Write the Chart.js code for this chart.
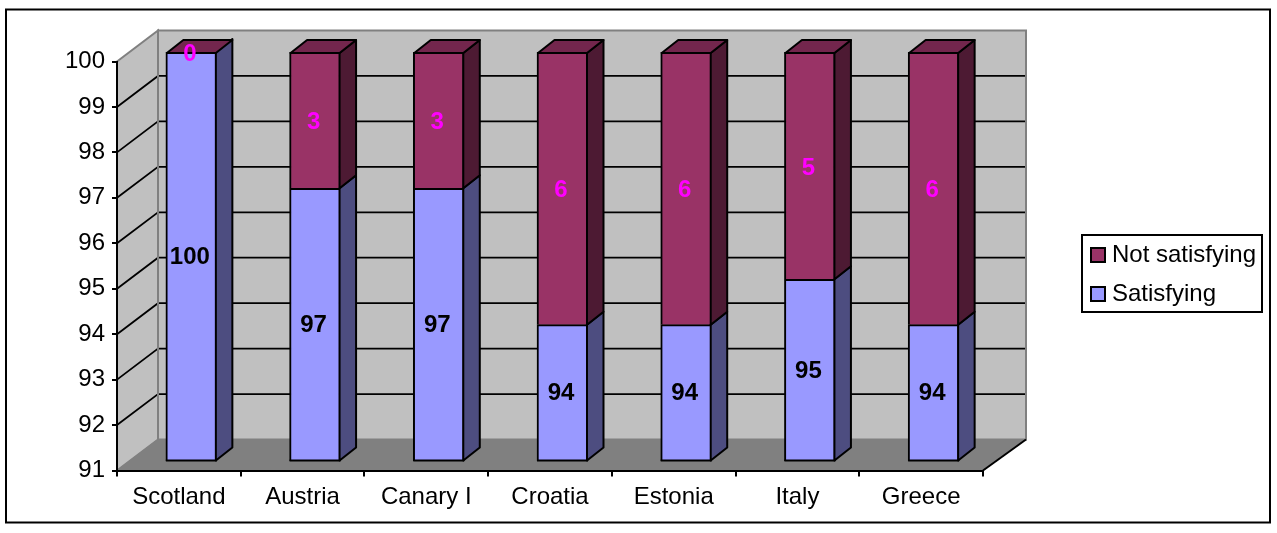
<!DOCTYPE html>
<html>
<head>
<meta charset="utf-8">
<title>Satisfaction by destination</title>
<script src="https://cdn.jsdelivr.net/npm/chart.js@4"></script>
<style>
  html, body { margin: 0; padding: 0; background: #fff; }
  #wrap { width: 1277px; height: 533px; }
</style>
</head>
<body>
<div id="wrap"><canvas id="chart" width="1277" height="533"></canvas></div>
<script>
// ===== DATA =====
const categories    = ["Scotland", "Austria", "Canary I", "Croatia", "Estonia", "Italy", "Greece"];
const satisfying    = [100, 97, 97, 94, 94, 95, 94];
const notSatisfying = [0, 3, 3, 6, 6, 5, 6];
const yMin = 91;
const yMax = 100;

// ===== LOOK =====
const FONT = '"Liberation Sans", Arial, sans-serif';
const TEXT_SIZE = 24;
const WALL = { dxLeft: 41, dxRight: 43, dy: -31 };     // floor depth, front edge to back wall
const BAR_SHIFT = { dx: 12.5, dy: -9.5 };
const BAR_DEPTH = { dx: 16.5, dy: -13 };
const BLUE   = { front: "#9999ff", side: "#4d4d80" };
const PURPLE = { front: "#993366", side: "#4d1a33", top: "#73264d" };

function poly(ctx, pts, fill, stroke, lw) {
  ctx.beginPath();
  pts.forEach((p, i) => i ? ctx.lineTo(p[0], p[1]) : ctx.moveTo(p[0], p[1]));
  ctx.closePath();
  if (fill) { ctx.fillStyle = fill; ctx.fill(); }
  if (stroke) { ctx.strokeStyle = stroke; ctx.lineWidth = lw; ctx.stroke(); }
}

// ===== WALLS, FLOOR, FRAME =====
const wallsPlugin = {
  id: "walls",
  beforeDraw(chart) {
    const { ctx, chartArea: a, scales: { y } } = chart;
    const { dxLeft, dxRight, dy } = WALL;
    const backL = a.left + dxLeft;
    const backR = a.right + dxRight;
    ctx.save();
    ctx.fillStyle = "#fff";
    ctx.fillRect(0, 0, chart.width, chart.height);
    ctx.strokeStyle = "#000";
    ctx.lineWidth = 2;
    ctx.strokeRect(6, 9.5, 1264, 513);

    // left wall, back wall, floor
    poly(ctx, [[a.left, a.top], [backL, a.top + dy], [backL, a.bottom + dy], [a.left, a.bottom]], "#c0c0c0", "#808080", 2);
    poly(ctx, [[backL, a.top + dy], [backR, a.top + dy], [backR, a.bottom + dy], [backL, a.bottom + dy]], "#c0c0c0", "#808080", 2);
    poly(ctx, [[a.left, a.bottom], [backL, a.bottom + dy], [backR, a.bottom + dy], [a.right, a.bottom]], "#808080", "#808080", 1);

    // gridlines run up the left wall then along the back wall
    ctx.strokeStyle = "#000";
    ctx.lineWidth = 1.8;
    y.ticks.forEach(t => {
      if (t.value === yMin || t.value === yMax) return;
      const py = y.getPixelForValue(t.value);
      ctx.beginPath();
      ctx.moveTo(a.left, py);
      ctx.lineTo(backL, py + dy);
      ctx.lineTo(backR - 1, py + dy);
      ctx.stroke();
    });

    // corner between the walls stays grey
    ctx.strokeStyle = "#808080";
    ctx.lineWidth = 2;
    ctx.beginPath();
    ctx.moveTo(backL, a.top + dy);
    ctx.lineTo(backL, a.bottom + dy);
    ctx.stroke();

    // front right edge of the floor
    ctx.strokeStyle = "#000";
    ctx.beginPath();
    ctx.moveTo(a.right, a.bottom);
    ctx.lineTo(backR, a.bottom + dy);
    ctx.stroke();
    ctx.restore();
  }
};

// ===== 3D BARS: move the library's bars back, add side and top faces =====
const barsPlugin = {
  id: "bars3d",
  beforeDatasetsDraw(chart) {
    chart.ctx.save();
    chart.ctx.translate(BAR_SHIFT.dx, BAR_SHIFT.dy);
  },
  afterDatasetsDraw(chart) {
    const { ctx, chartArea } = chart;
    const d = BAR_DEPTH;
    const blue = chart.getDatasetMeta(0).data;
    const purple = chart.getDatasetMeta(1).data;
    // the stack starts at zero, far under the axis minimum, so the visible bottom is the axis
    const floorY = chartArea.bottom;
    ctx.lineJoin = "round";
    blue.forEach((bar, i) => {
      const top = purple[i];
      const xr = bar.x + bar.width / 2 - 1;
      const xl = bar.x - bar.width / 2 + 1;
      const yb = floorY - 0.5;
      const ym = bar.y;
      const yt = top.y + 1;
      poly(ctx, [[xr, yb], [xr + d.dx, yb + d.dy], [xr + d.dx, ym + d.dy], [xr, ym]], BLUE.side, "#000", 2);
      if (notSatisfying[i] > 0) {
        poly(ctx, [[xr, ym], [xr + d.dx, ym + d.dy], [xr + d.dx, yt + d.dy], [xr, yt]], PURPLE.side, "#000", 2);
      }
      poly(ctx, [[xl, yt], [xl + d.dx, yt + d.dy], [xr + d.dx, yt + d.dy], [xr, yt]], PURPLE.top, "#000", 2);
      // bottom edge of the front face
      ctx.strokeStyle = "#000";
      ctx.lineWidth = 2;
      ctx.beginPath();
      ctx.moveTo(xl - 1, yb);
      ctx.lineTo(xr + 1, yb);
      ctx.stroke();
    });

    // value labels, centred on each front face
    ctx.font = `bold ${TEXT_SIZE}px ${FONT}`;
    ctx.textAlign = "center";
    ctx.textBaseline = "middle";
    blue.forEach((bar, i) => {
      ctx.fillStyle = "#000";
      ctx.fillText(satisfying[i], bar.x - 1.5, (bar.y + floorY) / 2 + 1);
      const top = purple[i];
      ctx.fillStyle = "#ff00ff";
      ctx.fillText(notSatisfying[i], top.x - 1.5, (top.y + top.base) / 2 + 2.5);
    });
    ctx.restore();
  }
};

// ===== LEGEND =====
const legendPlugin = {
  id: "boxLegend",
  afterDraw(chart) {
    const { ctx } = chart;
    ctx.save();
    ctx.strokeStyle = "#000";
    ctx.lineWidth = 2;
    ctx.strokeRect(1082, 235, 180, 77);
    const items = [chart.data.datasets[1], chart.data.datasets[0]];
    ctx.font = `${TEXT_SIZE}px ${FONT}`;
    ctx.textBaseline = "middle";
    ctx.textAlign = "left";
    items.forEach((ds, i) => {
      const cy = 255 + i * 39;
      ctx.fillStyle = ds.backgroundColor;
      ctx.fillRect(1091, cy - 7, 14, 14);
      ctx.strokeRect(1091, cy - 7, 14, 14);
      ctx.fillStyle = "#000";
      ctx.fillText(ds.label, 1112, cy);
    });
    ctx.restore();
  }
};

// ===== CHART =====
new Chart(document.getElementById("chart"), {
  type: "bar",
  data: {
    labels: categories,
    datasets: [
      { label: "Satisfying", data: satisfying, backgroundColor: BLUE.front, borderColor: "#000", borderWidth: 2, borderSkipped: false },
      { label: "Not satisfying", data: notSatisfying, backgroundColor: PURPLE.front, borderColor: "#000", borderWidth: 2, borderSkipped: "bottom" }
    ]
  },
  options: {
    responsive: false,
    animation: false,
    layout: { padding: { left: 7, right: 294, top: 61.5, bottom: 9 } },
    barThickness: 51,
    plugins: { legend: { display: false }, title: { display: false }, tooltip: { enabled: false } },
    scales: {
      x: {
        stacked: true,
        afterFit: s => { s.height = 53.5; },
        border: { color: "#000", width: 2 },
        grid: { drawOnChartArea: false, color: "#000", lineWidth: 2, tickLength: 6, offset: true },
        ticks: { color: "#000", font: { family: FONT, size: TEXT_SIZE }, padding: 6, maxRotation: 0 }
      },
      y: {
        stacked: true,
        min: yMin,
        max: yMax,
        afterFit: s => { s.width = 110; },
        border: { color: "#000", width: 2 },
        grid: { drawOnChartArea: false, color: "#000", lineWidth: 2, tickLength: 5 },
        ticks: { stepSize: 1, color: "#000", font: { family: FONT, size: TEXT_SIZE }, padding: 7 }
      }
    }
  },
  plugins: [wallsPlugin, barsPlugin, legendPlugin]
});
</script>
</body>
</html>
